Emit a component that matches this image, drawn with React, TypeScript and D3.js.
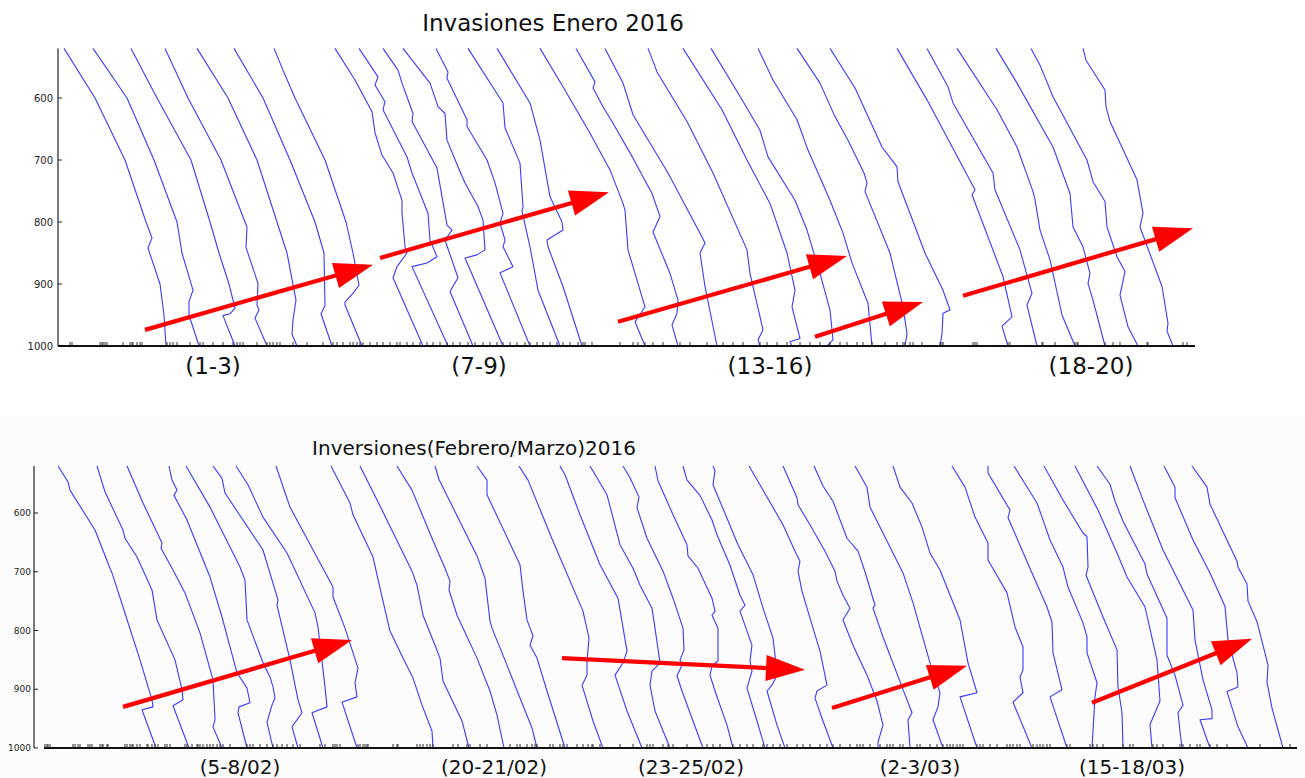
import React from "react";
import * as d3 from "d3";

// pressure levels (hPa) on the vertical axis
const P_TOP = 520;
const P_BOTTOM = 1000;
const P_TICKS = [600, 700, 800, 900, 1000];

// each sounding: [pressure, offset along the unlabeled horizontal axis]
const ENERO_PROFILES: [number, number][][] = [
  [[520,6],[600,37],[700,67],[800,88],[826,94],[842,90],[900,102],[950,106],[1000,108]],
  [[520,35],[600,69],[700,96],[800,119],[850,124],[910,135],[928,131],[950,131],[1000,141]],
  [[520,73],[600,99],[700,133],[800,152],[850,161],[900,171],[926,175],[939,177],[948,172],[951,165],[1000,177]],
  [[520,107],[600,130],[700,163],[800,187],[808,189],[841,188],[899,200],[934,199],[942,201],[955,197],[1000,209]],
  [[520,139],[600,170],[700,199],[800,219],[850,229],[926,238],[958,235],[981,234],[1000,239]],
  [[520,176],[600,205],[700,232],[800,257],[850,266],[935,267],[948,263],[967,267],[1000,274]],
  [[520,216],[555,225],[600,237],[700,267],[800,288],[850,295],[902,301],[915,295],[929,287],[934,287],[1000,304]],
  [[520,277],[571,297],[622,314],[656,317],[692,324],[721,335],[765,344],[786,344],[840,347],[850,349],[872,339],[890,335],[1000,365]],
  [[520,301],[566,320],[579,317],[606,327],[619,325],[695,349],[721,354],[786,370],[829,372],[856,379],[866,369],[872,354],[1000,390]],
  [[520,325],[555,340],[576,344],[625,355],[638,354],[713,379],[805,389],[813,394],[829,387],[890,400],[912,392],[1000,415]],
  [[520,345],[576,372],[614,380],[625,387],[668,389],[711,400],[737,407],[775,420],[797,425],[845,427],[853,419],[858,407],[1000,445]],
  [[520,378],[558,390],[568,389],[635,409],[646,409],[700,429],[737,437],[786,445],[802,442],[829,447],[840,445],[872,455],[882,442],[1000,472]],
  [[520,410],[608,445],[648,447],[705,462],[775,465],[783,464],[840,472],[910,480],[1000,502]],
  [[520,439],[608,472],[668,482],[759,492],[800,504],[813,505],[829,489],[840,490],[904,505],[1000,524]],
  [[520,482],[582,505],[657,532],[716,552],[770,565],[781,567],[845,570],[937,587],[961,577],[1000,587]],
  [[520,518],[574,537],[584,535],[614,545],[638,554],[697,575],[754,594],[791,602],[816,595],[883,612],[926,620],[947,619],[966,614],[1000,620]],
  [[520,547],[576,565],[627,575],[721,610],[818,642],[834,647],[850,642],[904,647],[1000,659]],
  [[520,590],[549,597],[558,599],[638,629],[721,655],[845,689],[883,692],[974,705],[990,700],[1000,702]],
  [[520,625],[619,664],[700,689],[770,712],[850,729],[910,737],[937,734],[988,742],[993,732],[1000,734]],
  [[520,653],[592,680],[652,702],[695,710],[765,737],[813,749],[883,762],[942,772],[990,775],[1000,769]],
  [[520,700],[571,715],[635,739],[684,750],[765,772],[818,785],[866,794],[931,810],[1000,814]],
  [[520,739],[576,762],[630,777],[668,790],[721,806],[737,809],[751,807],[850,832],[937,845],[980,849],[1000,847]],
  [[520,772],[584,797],[679,824],[711,839],[735,840],[850,867],[910,885],[942,892],[947,885],[980,884],[1000,882]],
  [[520,839],[603,869],[748,917],[756,914],[888,945],[953,954],[968,944],[1000,950]],
  [[520,869],[582,890],[608,895],[721,935],[748,937],[845,962],[915,974],[934,969],[1000,979]],
  [[520,899],[619,939],[679,959],[751,975],[764,977],[813,982],[861,992],[950,1004],[1000,1017]],
  [[520,938],[576,959],[679,995],[754,1012],[808,1015],[840,1025],[883,1032],[899,1030],[926,1035],[1000,1047]],
  [[520,973],[547,982],[598,995],[700,1029],[735,1035],[767,1047],[808,1049],[856,1059],[880,1067],[918,1062],[969,1070],[1000,1080]],
  [[520,1025],[539,1028],[587,1047],[614,1048],[638,1052],[732,1079],[786,1085],[808,1082],[904,1104],[963,1110],[976,1109],[1000,1115]],
];

const FEBMAR_PROFILES: [number, number][][] = [
  [[520,24],[547,34],[561,36],[629,61],[694,76],[702,78],[760,89],[850,106],[918,118],[930,119],[935,108],[1000,122]],
  [[520,63],[564,71],[629,89],[643,91],[675,103],[731,118],[782,123],[850,141],[901,148],[918,149],[928,139],[1000,155]],
  [[520,93],[583,109],[651,128],[660,127],[697,139],[736,151],[804,166],[884,179],[952,181],[964,179],[1000,188]],
  [[520,135],[544,138],[561,143],[570,140],[612,153],[709,176],[777,188],[828,196],[872,203],[898,213],[923,216],[930,205],[940,204],[1000,213]],
  [[520,152],[590,176],[692,206],[714,211],[782,213],[855,229],[879,236],[896,239],[915,241],[927,238],[956,233],[1000,239]],
  [[520,179],[541,188],[566,191],[663,229],[748,244],[757,243],[850,256],[918,264],[940,268],[964,258],[1000,264]],
  [[520,202],[552,214],[607,229],[668,253],[770,281],[794,284],[896,291],[930,293],[940,278],[1000,289]],
  [[520,242],[590,256],[726,299],[743,299],[796,311],[864,324],[889,321],[913,323],[922,308],[1000,323]],
  [[520,297],[583,316],[603,319],[675,339],[728,346],[801,356],[847,369],[881,379],[927,388],[971,398],[1000,399]],
  [[520,326],[588,346],[699,378],[723,383],[774,389],[825,401],[847,406],[886,409],[954,428],[1000,435]],
  [[520,363],[561,378],[643,398],[694,411],[716,416],[731,415],[774,423],[847,443],[903,456],[944,463],[1000,470]],
  [[520,401],[543,405],[673,443],[711,451],[784,456],[796,458],[859,473],[915,486],[966,498],[1000,503]],
  [[520,443],[544,453],[569,453],[688,486],[733,489],[782,493],[809,499],[825,496],[847,503],[903,513],[1000,531]],
  [[520,485],[544,494],[648,519],[767,549],[813,555],[852,553],[876,553],[893,548],[954,559],[1000,569]],
  [[520,526],[535,531],[603,546],[688,566],[745,584],[835,593],[855,589],[876,581],[937,593],[1000,608]],
  [[520,556],[569,573],[654,586],[694,599],[723,606],[762,618],[796,621],[855,626],[869,618],[893,616],[937,621],[1000,636]],
  [[520,589],[540,596],[573,605],[591,603],[643,613],[699,629],[745,639],[796,649],[833,650],[850,646],[859,648],[877,643],[903,648],[954,659],[1000,669]],
  [[520,621],[545,624],[603,639],[654,653],[673,654],[694,664],[745,678],[767,681],[774,678],[796,684],[852,684],[860,678],[876,676],[903,681],[961,693],[1000,699]],
  [[520,649],[544,653],[570,666],[612,678],[637,683],[689,696],[740,706],[757,711],[767,706],[801,713],[825,718],[852,716],[869,718],[898,713],[954,723],[1000,731]],
  [[520,679],[528,681],[552,679],[609,693],[654,704],[705,719],[762,729],[813,739],[842,741],[876,743],[893,738],[903,733],[961,743],[1000,751]],
  [[520,715],[561,729],[620,749],[665,761],[682,766],[699,764],[733,768],[779,776],[835,786],[893,793],[903,783],[915,781],[954,789],[1000,799]],
  [[520,749],[574,763],[586,764],[620,776],[665,791],[699,801],[716,803],[740,809],[762,816],[782,809],[825,819],[876,833],[920,843],[961,849],[990,844],[1000,844]],
  [[520,780],[554,789],[580,799],[643,813],[665,824],[700,831],[757,841],[762,839],[811,849],[896,868],[940,878],[952,874],[1000,876]],
  [[520,821],[556,833],[590,836],[702,869],[748,878],[753,879],[855,896],[906,906],[930,904],[952,899],[1000,909]],
  [[520,859],[556,866],[583,878],[624,888],[668,896],[697,906],[782,926],[855,934],[906,943],[913,926],[1000,943]],
  [[520,918],[556,931],[607,941],[651,954],[680,954],[736,973],[794,981],[828,989],[867,989],[879,986],[906,989],[922,979],[1000,998]],
  [[520,954],[532,954],[595,976],[608,974],[702,998],[760,1013],[786,1018],[838,1019],[901,1028],[913,1016],[1000,1033]],
  [[520,980],[583,1003],[607,1008],[646,1016],[692,1029],[726,1034],[787,1049],[811,1053],[838,1053],[889,1063],[913,1061],[1000,1058]],
  [[520,1010],[578,1029],[634,1049],[640,1053],[692,1054],[706,1052],[777,1069],[833,1083],[896,1084],[940,1088],[1000,1089]],
  [[520,1041],[595,1064],[668,1083],[709,1093],[760,1111],[850,1123],[920,1126],[940,1121],[960,1116],[1000,1118]],
  [[520,1063],[551,1076],[580,1081],[614,1089],[687,1111],[704,1113],[779,1133],[842,1133],[876,1141],[927,1149],[940,1144],[972,1146],[1000,1148]],
  [[520,1096],[578,1109],[663,1129],[765,1159],[816,1161],[884,1169],[935,1178],[950,1178],[952,1166],[1000,1176]],
  [[520,1130],[556,1141],[574,1141],[646,1159],[702,1176],[759,1191],[816,1194],[872,1203],[896,1204],[904,1193],[964,1204],[1000,1214]],
  [[520,1158],[556,1173],[585,1176],[682,1203],[692,1204],[721,1213],[750,1214],[785,1223],[859,1234],[888,1233],[932,1238],[1000,1249]],
];

// rug marks along the base of each panel
const ENERO_RUG = [12,14,42,44,45,47,49,65,72,74,75,79,82,84,109,112,115,119,132,142,145,155,165,175,179,182,185,199,209,212,215,219,222,235,249,265,275,279,285,292,295,299,302,305,312,319,325,332,339,342,349,355,362,369,375,382,389,395,402,410,417,425,432,439,445,452,459,467,472,479,485,492,499,505,512,520,525,527,534,562,575,580,587,595,605,622,632,649,665,675,685,702,709,719,729,742,752,762,772,782,789,799,805,814,827,839,845,847,852,855,864,882,884,885,915,917,919,950,952,984,985,997,1017,1019,1020,1047,1055,1062,1089,1090,1125,1129];
const FEBMAR_RUG = [11,13,14,16,39,41,44,46,54,56,58,66,68,69,73,74,91,93,96,98,99,103,106,113,114,118,121,124,131,133,136,151,153,158,163,164,166,169,173,176,179,183,186,189,196,213,216,219,226,233,239,243,248,253,259,266,286,291,299,301,303,306,324,326,329,331,333,334,359,363,364,383,386,389,393,396,399,419,424,433,436,446,453,476,483,486,493,498,501,503,516,519,526,529,533,543,549,554,558,559,566,586,599,613,616,619,629,634,639,653,673,679,686,699,706,713,719,729,733,739,746,753,763,769,776,786,793,799,806,816,823,826,829,836,846,853,856,859,866,869,883,886,896,903,909,913,916,919,923,926,929,943,946,949,956,963,973,976,979,983,986,999,1003,1006,1009,1013,1016,1033,1036,1056,1059,1063,1069,1089,1096,1099,1119,1123,1129,1146,1149,1156,1163,1166,1176,1183,1193,1226,1256];

// red arrows: [startOffset, startPressure, tipOffset, tipPressure]
const ENERO_ARROWS = [
  [87, 974, 315, 869],
  [322, 858, 551, 752],
  [560, 961, 789, 855],
  [757, 985, 865, 929],
  [905, 919, 1135, 810],
];
const FEBMAR_ARROWS = [
  [89, 930, 318, 816],
  [528, 847, 771, 867],
  [798, 932, 933, 860],
  [1058, 923, 1218, 814],
];

const ENERO_GROUPS = ["(1-3)", "(7-9)", "(13-16)", "(18-20)"];
const ENERO_GROUP_POS = [155, 421, 712, 1033];
const FEBMAR_GROUPS = ["(5-8/02)", "(20-21/02)", "(23-25/02)", "(2-3/03)", "(15-18/03)"];
const FEBMAR_GROUP_POS = [206, 460, 657, 886, 1098];

const FONT = "DejaVu Sans, Verdana, sans-serif";

type PanelProps = {
  title: string;
  titleX: number;
  titleY: number;
  titleSize: number;
  left: number;
  right: number;
  top: number;
  bottom: number;
  xMax: number;
  baseStart: number;
  profiles: [number, number][][];
  rug: number[];
  arrows: number[][];
  groups: string[];
  groupPos: number[];
  groupY: number;
  groupSize: number;
  tickSize: number;
  tickGap: number;
};

function Panel(props: PanelProps) {
  const x = d3.scaleLinear().domain([0, props.xMax]).range([props.left, props.right]);
  const y = d3.scaleLinear().domain([P_TOP, P_BOTTOM]).range([props.top, props.bottom]);
  const line = d3
    .line<[number, number]>()
    .x((d) => x(d[1]))
    .y((d) => y(d[0]));

  const headLen = 39;
  const headHalf = 13;

  return (
    <g>
      <text
        x={props.titleX}
        y={props.titleY}
        fontSize={props.titleSize}
        fontFamily={FONT}
        textAnchor="middle"
        fill="#111"
      >
        {props.title}
      </text>

      {/* soundings */}
      <g fill="none" stroke="#3a3aff" strokeWidth={1.1} strokeLinejoin="round">
        {props.profiles.map((pr, i) => (
          <path key={i} d={line(pr) || ""} />
        ))}
      </g>

      {/* y axis */}
      <line x1={x(0)} x2={x(0)} y1={y(P_TOP)} y2={y(P_BOTTOM)} stroke="#222" strokeWidth={1.2} />
      {P_TICKS.map((t) => (
        <g key={t}>
          <line x1={x(0)} x2={x(0) + 4} y1={y(t)} y2={y(t)} stroke="#222" strokeWidth={1} />
          <text
            x={x(0) - props.tickGap}
            y={y(t)}
            dy="0.35em"
            textAnchor="end"
            fontSize={props.tickSize}
            fontFamily={FONT}
            fill="#222"
          >
            {t}
          </text>
        </g>
      ))}

      {/* rug + base line */}
      <g stroke="#333" strokeWidth={1}>
        {props.rug.map((r, i) => (
          <line key={i} x1={x(r)} x2={x(r)} y1={y(P_BOTTOM)} y2={y(P_BOTTOM) - 4} />
        ))}
      </g>
      <line
        x1={x(props.baseStart)}
        x2={x(props.xMax)}
        y1={y(P_BOTTOM)}
        y2={y(P_BOTTOM)}
        stroke="#111"
        strokeWidth={2}
      />

      {/* arrows */}
      {props.arrows.map((a, i) => {
        const x0 = x(a[0]);
        const y0 = y(a[1]);
        const x1 = x(a[2]);
        const y1 = y(a[3]);
        const len = Math.hypot(x1 - x0, y1 - y0);
        const ux = (x1 - x0) / len;
        const uy = (y1 - y0) / len;
        const bx = x1 - ux * headLen;
        const by = y1 - uy * headLen;
        const pts = [
          [x1, y1],
          [bx - uy * headHalf, by + ux * headHalf],
          [bx + uy * headHalf, by - ux * headHalf],
        ];
        return (
          <g key={i}>
            <line x1={x0} y1={y0} x2={bx + ux * 2} y2={by + uy * 2} stroke="#ff0000" strokeWidth={4.2} />
            <polygon points={pts.map((p) => p.join(",")).join(" ")} fill="#ff0000" />
          </g>
        );
      })}

      {/* group labels */}
      {props.groups.map((g, i) => (
        <text
          key={g}
          x={x(props.groupPos[i])}
          y={props.groupY}
          textAnchor="middle"
          fontSize={props.groupSize}
          fontFamily={FONT}
          fill="#111"
        >
          {g}
        </text>
      ))}
    </g>
  );
}

export default function App() {
  return (
    <svg
      width={1305}
      height={778}
      style={{ position: "absolute", left: 0, top: 0, background: "#fff" }}
    >
      <rect x={0} y={416} width={1305} height={362} fill="#fcfcfc" />
      <Panel
        title="Invasiones Enero 2016"
        titleX={553}
        titleY={31}
        titleSize={23}
        left={58}
        right={1195}
        top={48.4}
        bottom={346}
        xMax={1137}
        baseStart={0}
        profiles={ENERO_PROFILES}
        rug={ENERO_RUG}
        arrows={ENERO_ARROWS}
        groups={ENERO_GROUPS}
        groupPos={ENERO_GROUP_POS}
        groupY={374}
        groupSize={23}
        tickSize={10}
        tickGap={5}
      />
      <Panel
        title="Inversiones(Febrero/Marzo)2016"
        titleX={474}
        titleY={455}
        titleSize={20}
        left={34}
        right={1297}
        top={466}
        bottom={748}
        xMax={1263}
        baseStart={10}
        profiles={FEBMAR_PROFILES}
        rug={FEBMAR_RUG}
        arrows={FEBMAR_ARROWS}
        groups={FEBMAR_GROUPS}
        groupPos={FEBMAR_GROUP_POS}
        groupY={774}
        groupSize={20}
        tickSize={9}
        tickGap={3}
      />
    </svg>
  );
}
